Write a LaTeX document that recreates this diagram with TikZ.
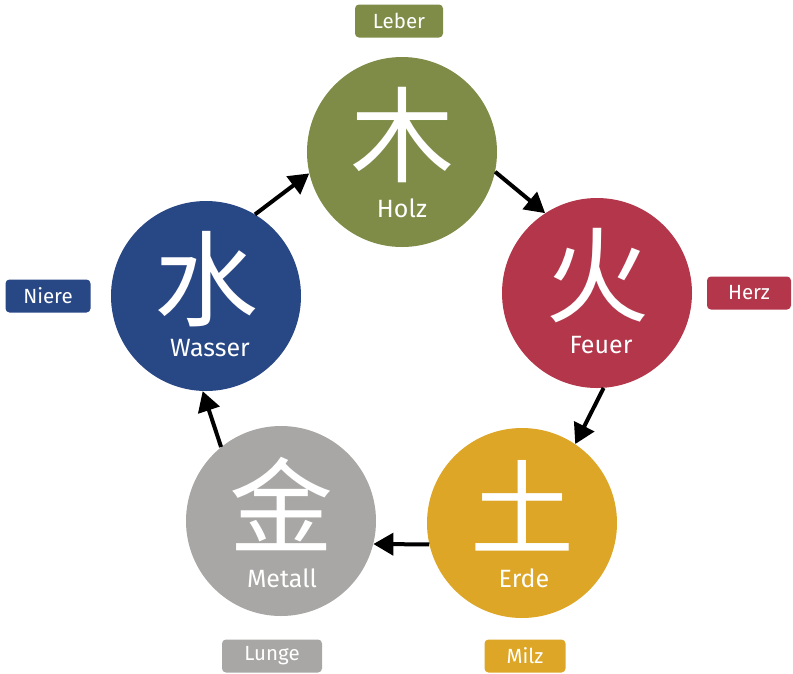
\documentclass[tikz,border=0pt]{standalone}
\usepackage{fontspec}
\setmainfont{Fira Sans}
\newfontfamily\cjk{Noto Sans CJK SC}
\usetikzlibrary{arrows.meta}
\definecolor{holzc}{HTML}{7E8C47}
\definecolor{feuerc}{HTML}{B3364A}
\definecolor{erdec}{HTML}{DEA626}
\definecolor{metallc}{HTML}{A8A7A5}
\definecolor{wasserc}{HTML}{284785}
\tikzset{
  elem/.style={circle, minimum size=190pt, inner sep=0pt, draw=none},
  glyph/.style={text=white, font=\cjk\fontsize{104}{104}\selectfont, inner sep=0pt},
  elname/.style={text=white, font=\fontsize{25}{25}\selectfont, anchor=base, inner sep=0pt},
  organ/.style={text=white, font=\fontsize{20.5}{20.5}\selectfont, rounded corners=4pt, minimum height=33pt, inner sep=0pt},
  cyc/.style={line width=4pt, -{Triangle[length=20pt, width=22pt]}}
}
\begin{document}
\begin{tikzpicture}[x=1pt,y=-1pt]
\useasboundingbox (0,0) rectangle (793,673);
% circles
\node[elem, fill=holzc] (holz) at (402,152) {};
\node[elem, fill=feuerc] (feuer) at (597,293) {};
\node[elem, fill=erdec] (erde) at (522,523) {};
\node[elem, fill=metallc] (metall) at (281,521) {};
\node[elem, fill=wasserc] (wasser) at (206,296) {};
% glyphs
\node[glyph] (holzg) at (402,135) {木};
\node[glyph] (feuerg) at (597,276) {火};
\node[glyph] (erdeg) at (522,506) {土};
\node[glyph] (metallg) at (281,504) {金};
\node[glyph] (wasserg) at (206,279) {水};
% names
\node[elname] (holzn) at (402,217) {Holz};
\node[elname] (feuern) at (601,353) {Feuer};
\node[elname] (erden) at (524,587) {Erde};
\node[elname] (metalln) at (282,587) {Metall};
\node[elname] (wassern) at (210,356) {Wasser};
% organs
\node[organ, fill=holzc, minimum width=88pt] (leber) at (399,21) {Leber};
\node[organ, fill=feuerc, minimum width=84pt] (herz) at (749,293) {Herz};
\node[organ, fill=erdec, minimum width=81pt] (milz) at (525,656) {Milz};
\node[organ, fill=metallc, minimum width=100pt] (lunge) at (272,656) {Lunge};
\node[organ, fill=wasserc, minimum width=85pt] (niere) at (48,296) {Niere};
% cycle arrows
\draw[cyc] (holz.-12) -- (feuer.123);
\draw[cyc] (feuer.274) -- (erde.56);
\draw[cyc] (erde.193) -- (metall.346);
\draw[cyc] (metall.129) -- (wasser.268);
\draw[cyc] (wasser.59) -- (holz.193);
\end{tikzpicture}
\end{document}
